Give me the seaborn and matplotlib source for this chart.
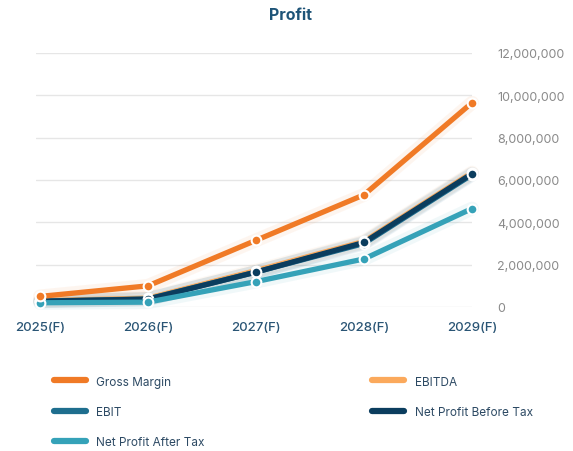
import numpy as np
import pandas as pd
import matplotlib.pyplot as plt
from matplotlib.ticker import FuncFormatter
import seaborn as sns

# Data
years = ['2025(F)', '2026(F)', '2027(F)', '2028(F)', '2029(F)']
gross_margin = [500000, 1000000, 3150000, 5300000, 9650000]
ebitda = [300000, 420000, 1720000, 3100000, 6350000]
ebit = [280000, 380000, 1650000, 3000000, 6250000]
np_before_tax = [270000, 370000, 1650000, 3050000, 6300000]
np_after_tax = [200000, 230000, 1200000, 2270000, 4650000]
y_ticks = [0, 2000000, 4000000, 6000000, 8000000, 10000000, 12000000]

series = {
    'Gross Margin': gross_margin,
    'EBITDA': ebitda,
    'EBIT': ebit,
    'Net Profit Before Tax': np_before_tax,
    'Net Profit After Tax': np_after_tax,
}
colors = {
    'Gross Margin': '#F07A26',
    'EBITDA': '#FBA95C',
    'EBIT': '#1E6E8E',
    'Net Profit Before Tax': '#0B3D5E',
    'Net Profit After Tax': '#35A2B8',
}
draw_order = ['EBITDA', 'EBIT', 'Net Profit Before Tax', 'Net Profit After Tax', 'Gross Margin']
legend_order = ['Gross Margin', 'EBIT', 'Net Profit After Tax', 'EBITDA', 'Net Profit Before Tax']

df = pd.DataFrame({'x': np.arange(len(years))})
for name, vals in series.items():
    df[name] = vals

sns.set_theme(style='white')
plt.rcParams['font.family'] = ['Inter', 'DejaVu Sans']

fig = plt.figure(figsize=(5.73, 4.52), dpi=100)
ax = fig.add_axes([36 / 573, 1 - 308 / 452, (472 - 36) / 573, (308 - 54) / 452])

# soft glow under the lines
for name in draw_order:
    sns.lineplot(data=df, x='x', y=name, ax=ax, color=colors[name], lw=10,
                 alpha=0.07, clip_on=False, zorder=2, legend=False)

for z, name in enumerate(draw_order):
    sns.lineplot(data=df, x='x', y=name, ax=ax, color=colors[name], lw=3.8,
                 marker='o', markersize=7, markeredgecolor='white', markeredgewidth=1.5,
                 clip_on=False, zorder=3 + z, legend=False)

ax.set_xlim(-0.037, 4.0)
ax.set_ylim(0, 12000000)
ax.set_xticks(df['x'])
ax.set_xticklabels(years)
ax.set_yticks(y_ticks)
ax.yaxis.set_major_formatter(FuncFormatter(lambda v, p: f'{int(v):,}'))
ax.yaxis.tick_right()
ax.tick_params(axis='y', length=0, pad=18, labelsize=9, labelcolor='#8A8A8A')
ax.tick_params(axis='x', length=0, pad=10, labelsize=9.5, labelcolor='#2A5575')
for lbl in ax.get_xticklabels():
    lbl.set_fontweight('medium')
ax.set_xlabel('')
ax.set_ylabel('')
ax.grid(axis='y', color='#E6E6E6', linewidth=1)
ax.grid(axis='x', visible=False)
for s in ax.spines.values():
    s.set_visible(False)

handles = [plt.Line2D([], [], color=colors[l], lw=4.5, solid_capstyle='round') for l in legend_order]
fig.legend(handles, legend_order, ncol=2,
           loc='upper left', bbox_to_anchor=(43 / 573, 1 - 366 / 452),
           frameon=False, fontsize=8.5, labelcolor='#2D4A64',
           handlelength=2.7, handletextpad=0.9, labelspacing=1.55, columnspacing=14.2)

fig.text(290 / 573, 1 - 16 / 452, 'Profit', ha='center', va='center',
         fontsize=11.5, fontweight='bold', color='#1E5478')

fig.savefig('out.png', dpi=100)
